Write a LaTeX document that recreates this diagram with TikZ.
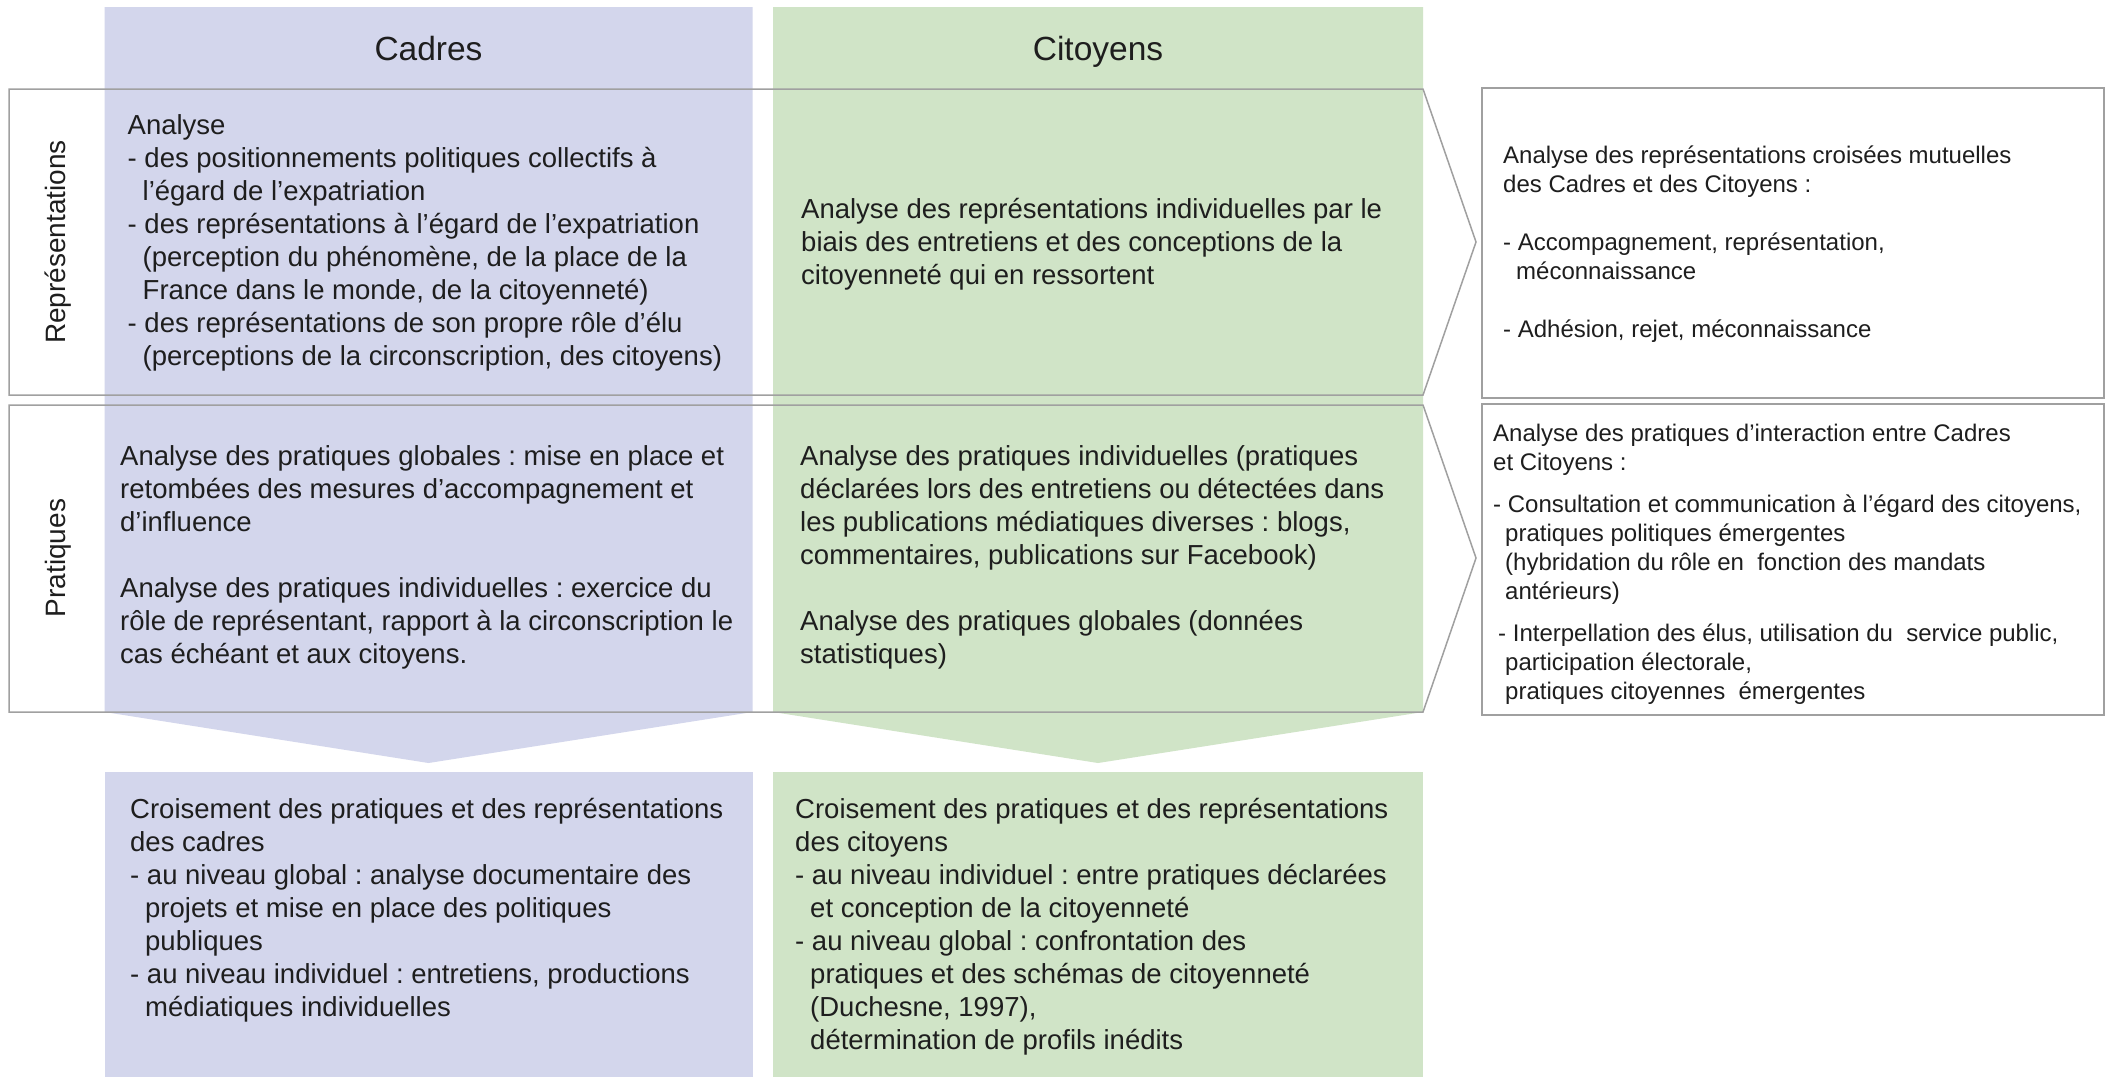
\documentclass[tikz,border=0pt]{standalone}
\usepackage{fontspec}
\setmainfont{Liberation Sans}
\frenchspacing
\definecolor{cadres}{RGB}{211,214,236}
\definecolor{citoy}{RGB}{208,228,199}
\definecolor{lineg}{RGB}{160,160,160}
\definecolor{txt}{RGB}{30,30,30}
\begin{document}
\begin{tikzpicture}[x=1pt,y=-1pt,
  body/.style={anchor=north west, inner sep=0pt, align=left, text=txt, font=\fontsize{27.5}{33}\selectfont},
  side/.style={anchor=north west, inner sep=0pt, align=left, text=txt, font=\fontsize{24}{29}\selectfont},
  head/.style={anchor=base, inner sep=0pt, text=txt, font=\fontsize{33.5}{40}\selectfont},
  rowlab/.style={anchor=base, rotate=90, inner sep=0pt, text=txt, font=\fontsize{28}{34}\selectfont},
  band/.style={draw=lineg, line width=1.5pt, line join=miter},
  sidebox/.style={draw=lineg, line width=1.5pt, fill=white}]
\useasboundingbox (0,0) rectangle (2111,1077);
\fill[white] (0,0) rectangle (2111,1077);
% columns
\fill[cadres] (104.5,7) -- (752.5,7) -- (752.5,712) -- (428.5,763) -- (104.5,712) -- cycle;
\fill[cadres] (104.5,772) rectangle (752.5,1077);
\fill[citoy] (773,7) -- (1423,7) -- (1423,712) -- (1098,763) -- (773,712) -- cycle;
\fill[citoy] (773,772) rectangle (1423,1077);
% bands
\draw[band] (9,89) -- (1423,89) -- (1476,242) -- (1423,395) -- (9,395) -- cycle;
\draw[band] (9,405) -- (1423,405) -- (1476,558) -- (1423,712) -- (9,712) -- cycle;
% side boxes
\draw[sidebox] (1482,88) rectangle (2104,398);
\draw[sidebox] (1482,404) rectangle (2104,715);
% headers
\node[head] (hcad) at (428.5,60) {Cadres};
\node[head] (hcit) at (1098,60) {Citoyens};
\node[rowlab] (lrep) at (65,242) {Représentations};
\node[rowlab] (lprat) at (65,558) {Pratiques};
% texts
\node[body] (cadrep) at (127.5,111) {\strut Analyse\\
- des positionnements politiques collectifs à\\
\hspace*{15pt}l’égard de l’expatriation\\
- des représentations à l’égard de l’expatriation\\
\hspace*{15pt}(perception du phénomène, de la place de la\\
\hspace*{15pt}France dans le monde, de la citoyenneté)\\
- des représentations de son propre rôle d’élu\\
\hspace*{15pt}(perceptions de la circonscription, des citoyens)};
\node[body] (citrep) at (801,195) {\strut Analyse des représentations individuelles par le\\
biais des entretiens et des conceptions de la\\
citoyenneté qui en ressortent};
\node[body] (cadprat) at (120,442) {\strut Analyse des pratiques globales : mise en place et\\
retombées des mesures d’accompagnement et\\
d’influence\\[33pt]
Analyse des pratiques individuelles : exercice du\\
rôle de représentant, rapport à la circonscription le\\
cas échéant et aux citoyens.};
\node[body] (citprat) at (800,442) {\strut Analyse des pratiques individuelles (pratiques\\
déclarées lors des entretiens ou détectées dans\\
les publications médiatiques diverses : blogs,\\
commentaires, publications sur Facebook)\\[33pt]
Analyse des pratiques globales (données\\
statistiques)};
\node[body] (cadbot) at (130,795) {\strut Croisement des pratiques et des représentations\\
des cadres\\
- au niveau global : analyse documentaire des\\
\hspace*{15pt}projets et mise en place des politiques\\
\hspace*{15pt}publiques\\
- au niveau individuel : entretiens, productions\\
\hspace*{15pt}médiatiques individuelles};
\node[body] (citbot) at (795,795) {\strut Croisement des pratiques et des représentations\\
des citoyens\\
- au niveau individuel : entre pratiques déclarées\\
\hspace*{15pt}et conception de la citoyenneté\\
- au niveau global : confrontation des\\
\hspace*{15pt}pratiques et des schémas de citoyenneté\\
\hspace*{15pt}(Duchesne, 1997),\\
\hspace*{15pt}détermination de profils inédits};
\node[side] (croisrep) at (1503,143) {\strut Analyse des représentations croisées mutuelles\\
des Cadres et des Citoyens :\\[29pt]
- Accompagnement, représentation,\\
\hspace*{13pt}méconnaissance\\[29pt]
- Adhésion, rejet, méconnaissance};
\node[side] (croisprat) at (1493,421) {\strut Analyse des pratiques d’interaction entre Cadres\\
et Citoyens :\\[13pt]
- Consultation et communication à l’égard des citoyens,\\
\hspace*{12pt}pratiques politiques émergentes\\
\hspace*{12pt}(hybridation du rôle en\ \ fonction des mandats\\
\hspace*{12pt}antérieurs)\\[13pt]
\hspace*{5pt}- Interpellation des élus, utilisation du\ \ service public,\\
\hspace*{12pt}participation électorale,\\
\hspace*{12pt}pratiques citoyennes\ \ émergentes};
\end{tikzpicture}
\end{document}
